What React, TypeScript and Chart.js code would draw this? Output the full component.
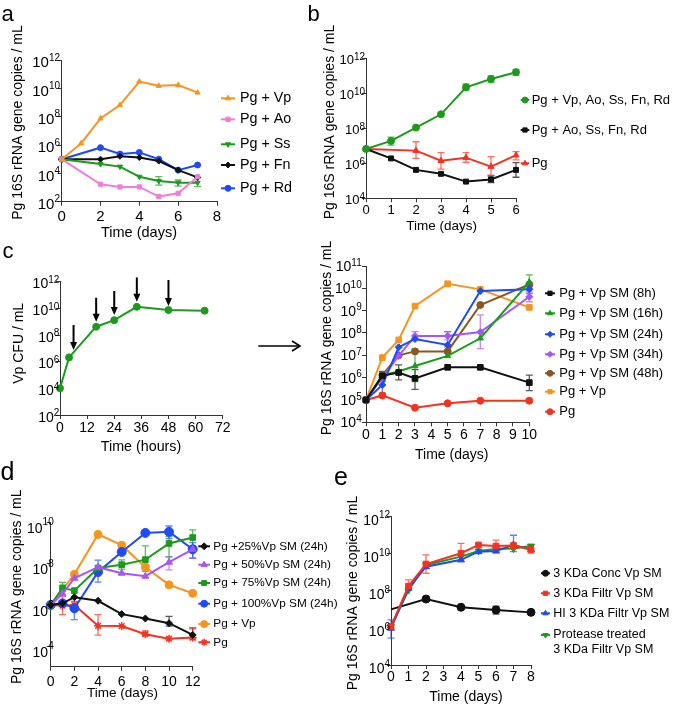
import React, { useEffect, useRef } from 'react';
import { Chart, registerables } from 'chart.js';
import { drawPoint } from 'chart.js/helpers';
Chart.register(...registerables);

const FONT = 'Arial, "Liberation Sans", Helvetica, sans-serif';
const AX = '#333';
const ORANGE = '#F7941D';
const PINK = '#F07ED6';
const GREEN = '#1B9A1B';
const BLACK = '#111111';
const BLUE = '#1F4BF5';
const RED = '#F4321E';
const PURPLE = '#A855F7';
const BROWN = '#8B5523';
const YTITLE = 'Pg 16S rRNA gene copies / mL';

// ---------- Panel a ----------
const aDays = [0, 1, 2, 3, 4, 5, 6, 7];
const aVp = [1e5, 1.3e6, 7.6e7, 6.6e8, 3e10, 1.5e10, 1.7e10, 5e9];
const aAo = [1e5, null, 1.7e3, 1.1e3, 1.1e3, 2.3e2, 3.9e2, 5.8e3];
const aSs = [1e5, null, 4.5e4, 3e4, 5.8e3, 2.9e3, 2.2e3, 2.2e3];
const aFn = [1e5, null, 1e5, 1.6e5, 1.3e5, 7.4e4, 1.7e4, 5.2e3];
const aRd = [1e5, null, 6.5e5, 2.3e5, 3e5, 1e5, 1.7e4, 3.9e4];
const aSsErr = [null, null, null, null, null, [1.5e3, 5.8e3], [1.26e3, 3.4e3], [1.15e3, 4.9e3]];
const aYExp = [2, 4, 6, 8, 10, 12];

// ---------- Panel b ----------
const bDays = [0, 1, 2, 3, 4, 5, 6];
const bAll = [6.6e6, 1.9e7, 1.1e8, 6.3e8, 2.2e10, 6.6e10, 1.6e11];
const bNoVp = [6.6e6, 1.9e6, 4.2e5, 2.5e5, 9e4, 1.2e5, 4.2e5];
const bPg = [6.6e6, null, 5.3e6, 1.4e6, 2.1e6, 6.5e5, 2.9e6];
const bAllErr = [null, [1.1e7, 3.1e7], null, null, [1.5e10, 3.4e10], [4.1e10, 1e11], [1.07e11, 2.3e11]];
const bNoVpErr = [null, null, null, null, null, [7.9e4, 1.9e5], [1.6e5, 1.1e6]];
const bPgErr = [null, null, [1.9e6, 1.7e7], [4.6e5, 4.1e6], [1.15e6, 4.1e6], [2.1e5, 2.4e6], [1.55e6, 4.7e6]];
const bYExp = [4, 6, 8, 10, 12];

// ---------- Panel c (left) ----------
const cHours = [0, 4, 16, 24, 34, 48, 64];
const cVp = [1e4, 2.1e6, 4.2e8, 1.3e9, 1.3e10, 7.5e9, 6.7e9];
const cArrowHours = [6, 16, 24, 34, 48];
const cArrowFrom = [5.6e8, 6.3e10, 2e11, 2.1e12, 1.35e12];
const cArrowTo = [7.6e6, 1e9, 3.2e9, 3.2e10, 1.5e10];
const cYExp = [2, 4, 6, 8, 10, 12];

// ---------- Panel c (right) ----------
const crDays = [0, 1, 2, 3, 5, 7, 10];
const cr8 = [1e5, 1.2e6, 1.7e6, 9.3e5, 2.9e6, 2.9e6, 6e5];
const cr16 = [1e5, 1.3e6, 1.9e6, 3.3e6, 9.4e6, 5.8e7, 1.9e10];
const cr24 = [1e5, 4.7e5, 2.3e7, 5.4e7, 2.9e7, 7.6e9, 9.1e9];
const cr34 = [1e5, 1e6, 9.4e6, 7.4e7, 7.4e7, 1.1e8, 4.2e9];
const cr48 = [1e5, 1.3e6, 1e7, 1.5e7, 1.5e7, 1.8e9, 1.5e10];
const crVp = [1e5, 7.9e6, 4.9e7, 1.6e9, 1.6e10, 9e9, 1.4e9];
const crPg = [1e5, 1.6e5, null, 4.5e4, 7.1e4, 9.3e4, 9.3e4];
const cr8Err = [null, [8e5, 1.9e6], [8e5, 3.7e6], [3e5, 2.3e6], null, null, [2.6e5, 1.3e6]];
const cr16Err = [null, null, null, [6.6e5, 1.9e7], null, null, [1e10, 4e10]];
const cr24Err = [null, [2e5, 6.6e5], null, null, [2.4e7, 1.15e8], null, [6e9, 1.2e10]];
const cr34Err = [null, null, null, [4.9e7, 1.15e8], [4.9e7, 1.15e8], [2e7, 6.5e8], [2.5e9, 7e9]];
const crYExp = [4, 5, 6, 7, 8, 9, 10, 11];

// ---------- Panel d ----------
const dDays = [0, 1, 2, 4, 6, 8, 10, 12];
const d25 = [1e6, 1.2e6, 2.4e6, 1.6e6, 3.6e5, 2.2e5, 1.3e5, 3.5e4];
const d50 = [1e6, 3.5e6, 2e7, 6.9e7, 3.5e7, 2.5e7, 1.2e8, 5.1e8];
const d75 = [1e6, 6.8e6, 5e6, 6.3e7, 9.1e7, 1.6e8, 9.8e8, 1.9e9];
const d100 = [1e6, 1.2e6, 6.9e5, 4e7, 3.8e8, 3.2e9, 3.6e9, 5.1e8];
const dVp = [1e6, null, 3.1e7, 2.7e9, 8.1e8, 6.9e7, 9.5e6, 3.7e6];
const dPg = [1e6, 9.3e5, 1e6, 9.7e4, 9.4e4, 3.8e4, 2.3e4, 2.6e4];
const d25Err = [null, null, null, null, null, null, [9.3e4, 2.8e5], [2.5e4, 7.7e4]];
const d50Err = [null, null, null, null, null, null, [5.1e7, 2.2e8], [1.9e8, 6.9e8]];
const d75Err = [null, [4.6e6, 1.26e7], null, null, [5.5e7, 1.55e8], [4.3e7, 7.4e8], [2.2e8, 2.1e9], [7.4e8, 4.5e9]];
const d100Err = [null, null, [1.95e5, 1.5e6], [1.3e7, 1.5e8], null, null, [1.7e9, 6.9e9], [1.9e8, 1.07e9]];
const dPgErr = [null, [3.4e5, 2.6e6], null, [3.4e4, 3.4e5], null, [3.2e4, 5.5e4], null, [2.1e4, 6.9e4]];
const dYExp = [4, 6, 8, 10];

// ---------- Panel e ----------
const eDays = [0, 1, 2, 4, 5, 6, 7, 8];
const eConc = [1e7, null, 3.6e7, 1.3e7, null, 9.4e6, null, 6.9e6];
const eFiltr = [1.2e6, 1.8e8, 2.8e9, 1.07e10, 3e10, 2.6e10, 2.8e10, 1.7e10];
const eHI = [9.6e5, 1.4e8, 2e9, 4.7e9, 1.3e10, 1.4e10, 3e10, 1.7e10];
const eProt = [1.2e6, 1.1e8, 2.5e9, 7e9, 1.4e10, 1.8e10, 1.9e10, 2.6e10];
const eConcErr = [null, null, null, null, null, [5.6e6, 1.5e7], null, null];
const eFiltrErr = [null, [1.1e8, 3.9e8], [8.9e8, 8.7e9], [3.8e9, 3.6e10], null, [1.3e10, 5.5e10], null, [1.1e10, 2.9e10]];
const eHIErr = [[2.8e5, 2.7e6], null, null, null, null, null, [1.3e10, 1e11], null];
const eYExp = [4, 6, 8, 10, 12];

type Series = {
  label: string; color: string; y: (number | null)[]; err?: any[];
  style: string; rot?: number; r?: number; order?: number; noFirst?: boolean;
};
type Panel = {
  id: string; box: number[]; area: number[];
  xMin: number; xMax: number; xStep: number; xs: number[];
  yMin: number; yMax: number; yExp: number[];
  tick: number; labDx: number; baseDy: number; expDy: number;
  xTitle: { text: string; x: number; y: number; size: number };
  yTitle: { text: string; x: number; y: number; size: number };
  legend?: { x0: number; x1: number; tx: number; ys: number[]; size: number; r: number; lh: number };
  series: Series[]; pr: number; tickPad: number;
  arrows?: { x: number[]; from: number[]; to: number[] };
};

const panels: Panel[] = [
  {
    id: 'a', box: [0, 0, 318, 245], area: [61.7, 60, 217, 201.7],
    xMin: 0, xMax: 8, xStep: 2, xs: aDays, yMin: 1e2, yMax: 1e12, yExp: aYExp,
    tick: 15, labDx: -1.7, baseDy: 3.3, expDy: -2, tickPad: 2,
    xTitle: { text: 'Time (days)', x: 139, y: 233, size: 14.5 },
    yTitle: { text: YTITLE, x: 18, y: 122.5, size: 14 },
    legend: { x0: 221, x1: 235, tx: 240, ys: [98.3, 119.3, 144.3, 165, 188.3], size: 14.3, r: 3, lh: 0 },
    pr: 3,
    series: [
      { label: 'Pg + Vp', color: ORANGE, y: aVp, style: 'triangle' },
      { label: 'Pg + Ao', color: PINK, y: aAo, style: 'rect' },
      { label: 'Pg + Ss', color: GREEN, y: aSs, err: aSsErr, style: 'triangle', rot: 180 },
      { label: 'Pg + Fn', color: BLACK, y: aFn, style: 'rectRot' },
      { label: 'Pg + Rd', color: BLUE, y: aRd, style: 'circle' },
    ],
  },
  {
    id: 'b', box: [318, 0, 355, 236], area: [366, 58.3, 516, 198.3],
    xMin: 0, xMax: 6, xStep: 1, xs: bDays, yMin: 1e4, yMax: 1e12, yExp: bYExp,
    tick: 13, labDx: -1, baseDy: 1.7, expDy: -1.5, tickPad: 0,
    xTitle: { text: 'Time (days)', x: 441.7, y: 226, size: 13.5 },
    yTitle: { text: YTITLE, x: 330, y: 122, size: 14 },
    legend: { x0: 520.7, x1: 529.3, tx: 531.7, ys: [100, 130, 163.3], size: 13, r: 3, lh: 0 },
    pr: 3.5,
    series: [
      { label: 'Pg + Vp, Ao, Ss, Fn, Rd', color: GREEN, y: bAll, err: bAllErr, style: 'circle' },
      { label: 'Pg + Ao, Ss, Fn, Rd', color: BLACK, y: bNoVp, err: bNoVpErr, style: 'rect' },
      { label: 'Pg', color: RED, y: bPg, err: bPgErr, style: 'triangle' },
    ],
  },
  {
    id: 'cl', box: [0, 245, 255, 225], area: [60, 281.7, 222.7, 415],
    xMin: 0, xMax: 72, xStep: 12, xs: cHours, yMin: 1e2, yMax: 1e12, yExp: cYExp,
    tick: 14, labDx: -0.7, baseDy: 2.7, expDy: -1.5, tickPad: 1,
    xTitle: { text: 'Time (hours)', x: 141, y: 446.7, size: 14.3 },
    yTitle: { text: 'Vp CFU / mL', x: 19.3, y: 343.3, size: 14 },
    pr: 3.5,
    series: [{ label: 'Vp', color: GREEN, y: cVp, style: 'circle' }],
    arrows: { x: cArrowHours, from: cArrowFrom, to: cArrowTo },
  },
  {
    id: 'cr', box: [310, 236, 363, 234], area: [366, 266, 529.3, 422.3],
    xMin: 0, xMax: 10, xStep: 1, xs: crDays, yMin: 1e4, yMax: 1e11, yExp: crYExp,
    tick: 14, labDx: -4.3, baseDy: 1, expDy: -3, tickPad: 0,
    xTitle: { text: 'Time (days)', x: 451.7, y: 455, size: 14 },
    yTitle: { text: YTITLE, x: 326.7, y: 338, size: 14 },
    legend: { x0: 545, x1: 555, tx: 559.3, ys: [293.3, 313.3, 334.3, 354.3, 373.3, 391.7, 411.7], size: 13, r: 3, lh: 0 },
    pr: 3.5,
    series: [
      { label: 'Pg + Vp SM (8h)', color: BLACK, y: cr8, err: cr8Err, style: 'rect', r: 4 },
      { label: 'Pg + Vp SM (16h)', color: GREEN, y: cr16, err: cr16Err, style: 'triangle' },
      { label: 'Pg + Vp SM (24h)', color: BLUE, y: cr24, err: cr24Err, style: 'rectRot' },
      { label: 'Pg + Vp SM (34h)', color: PURPLE, y: cr34, err: cr34Err, style: 'rectRot' },
      { label: 'Pg + Vp SM (48h)', color: BROWN, y: cr48, style: 'circle' },
      { label: 'Pg + Vp', color: ORANGE, y: crVp, style: 'rect', r: 4 },
      { label: 'Pg', color: RED, y: crPg, style: 'circle' },
    ],
  },
  {
    id: 'd', box: [0, 470, 340, 234], area: [50.7, 522.7, 192.7, 666.7],
    xMin: 0, xMax: 12, xStep: 2, xs: dDays, yMin: 1e3, yMax: 1e10, yExp: dYExp,
    tick: 14, labDx: 3, baseDy: 6.7, expDy: 0, tickPad: 3,
    xTitle: { text: 'Time (days)', x: 122.5, y: 693, size: 13.5 },
    yTitle: { text: YTITLE, x: 16.7, y: 586.7, size: 14 },
    legend: { x0: 198.3, x1: 210, tx: 213.3, ys: [546.3, 564.7, 583, 603.7, 624, 642.3], size: 11.8, r: 3.5, lh: 0 },
    pr: 4,
    series: [
      { label: 'Pg +25%Vp SM (24h)', color: BLACK, y: d25, err: d25Err, style: 'rectRot', r: 3.5 },
      { label: 'Pg + 50%Vp SM (24h)', color: PURPLE, y: d50, err: d50Err, style: 'triangle' },
      { label: 'Pg + 75%Vp SM (24h)', color: GREEN, y: d75, err: d75Err, style: 'rect' },
      { label: 'Pg + 100%Vp SM (24h)', color: BLUE, y: d100, err: d100Err, style: 'circle', r: 4.5 },
      { label: 'Pg + Vp', color: ORANGE, y: dVp, style: 'circle' },
      { label: 'Pg', color: RED, y: dPg, err: dPgErr, style: 'star' },
    ],
  },
  {
    id: 'e', box: [340, 470, 333, 234], area: [391, 516.7, 531, 665],
    xMin: 0, xMax: 8, xStep: 1, xs: eDays, yMin: 1e4, yMax: 1e12, yExp: eYExp,
    tick: 14, labDx: -1, baseDy: 4.3, expDy: -1, tickPad: 0,
    xTitle: { text: 'Time (days)', x: 466, y: 696.7, size: 14 },
    yTitle: { text: YTITLE, x: 353.3, y: 593, size: 14 },
    legend: { x0: 541, x1: 550, tx: 553.3, ys: [573.3, 593.3, 613.3, 635], size: 12.5, r: 3, lh: 14.3 },
    pr: 4,
    series: [
      { label: '3 KDa Conc Vp SM', color: BLACK, y: eConc, err: eConcErr, style: 'circle', order: 3, noFirst: true },
      { label: '3 KDa Filtr Vp SM', color: RED, y: eFiltr, err: eFiltrErr, style: 'rect', order: 0 },
      { label: 'HI 3 KDa Filtr Vp SM', color: BLUE, y: eHI, err: eHIErr, style: 'triangle', order: 1 },
      { label: 'Protease treated\n3 KDa Filtr Vp SM', color: GREEN, y: eProt, style: 'triangle', rot: 180, order: 2 },
    ],
  },
];

function makeOverlay(p: Panel) {
  const bx = p.box[0], by = p.box[1];
  return {
    id: 'overlay_' + p.id,
    beforeDatasetsDraw(chart: any) {
      const ctx = chart.ctx; const xs = chart.scales.x; const ys = chart.scales.y;
      p.series.forEach((s) => {
        if (!s.err) return;
        ctx.save();
        ctx.strokeStyle = s.color; ctx.globalAlpha = 0.7; ctx.lineWidth = 1.3;
        s.err.forEach((e: any, i: number) => {
          if (!e) return;
          const px = xs.getPixelForValue(p.xs[i]);
          const y1 = ys.getPixelForValue(e[0]); const y2 = ys.getPixelForValue(e[1]);
          ctx.beginPath();
          ctx.moveTo(px, y1); ctx.lineTo(px, y2);
          ctx.moveTo(px - 3.5, y1); ctx.lineTo(px + 3.5, y1);
          ctx.moveTo(px - 3.5, y2); ctx.lineTo(px + 3.5, y2);
          ctx.stroke();
        });
        ctx.restore();
      });
    },
    afterDraw(chart: any) {
      const ctx = chart.ctx; const xs = chart.scales.x; const ys = chart.scales.y; const ca = chart.chartArea;
      ctx.save();
      ctx.fillStyle = '#000';
      // y tick labels with superscript exponents
      ctx.textAlign = 'right'; ctx.textBaseline = 'middle';
      p.yExp.forEach((e) => {
        const y = ys.getPixelForValue(Math.pow(10, e));
        const xr = ca.left + p.labDx;
        ctx.font = `10px ${FONT}`;
        const es = String(e); const ew = ctx.measureText(es).width;
        ctx.fillText(es, xr, y + p.expDy);
        ctx.font = `${p.tick}px ${FONT}`;
        ctx.fillText('10', xr - ew, y + p.baseDy);
      });
      // titles
      ctx.textAlign = 'center'; ctx.textBaseline = 'middle';
      ctx.font = `${p.xTitle.size}px ${FONT}`;
      ctx.fillText(p.xTitle.text, p.xTitle.x - bx, p.xTitle.y - by);
      ctx.save();
      ctx.translate(p.yTitle.x - bx, p.yTitle.y - by);
      ctx.rotate(-Math.PI / 2);
      ctx.font = `${p.yTitle.size}px ${FONT}`;
      ctx.fillText(p.yTitle.text, 0, 0);
      ctx.restore();
      // legend
      if (p.legend) {
        const lg = p.legend;
        p.series.forEach((s, i) => {
          const y = lg.ys[i] - by; const x0 = lg.x0 - bx; const x1 = lg.x1 - bx;
          ctx.strokeStyle = s.color; ctx.lineWidth = 2;
          ctx.beginPath(); ctx.moveTo(x0, y); ctx.lineTo(x1, y); ctx.stroke();
          ctx.fillStyle = s.color; ctx.lineWidth = s.style === 'star' ? 1.5 : 1;
          drawPoint(ctx, { pointStyle: s.style, rotation: s.rot || 0, radius: lg.r, borderWidth: s.style === 'star' ? 1.5 : 1 } as any, (x0 + x1) / 2, y);
          ctx.fillStyle = '#000'; ctx.font = `${lg.size}px ${FONT}`;
          ctx.textAlign = 'left'; ctx.textBaseline = 'middle';
          s.label.split('\n').forEach((t, j) => ctx.fillText(t, lg.tx - bx, y + j * lg.lh));
        });
      }
      // arrows (panel c)
      if (p.arrows) {
        const a = p.arrows;
        ctx.strokeStyle = '#000'; ctx.fillStyle = '#000'; ctx.lineWidth = 2;
        a.x.forEach((h, i) => {
          const x = xs.getPixelForValue(h);
          const y0 = ys.getPixelForValue(a.from[i]); const y1 = ys.getPixelForValue(a.to[i]);
          ctx.beginPath(); ctx.moveTo(x, y0); ctx.lineTo(x, y1 - 6); ctx.stroke();
          ctx.beginPath(); ctx.moveTo(x - 3.5, y1 - 8); ctx.lineTo(x + 3.5, y1 - 8); ctx.lineTo(x, y1); ctx.closePath(); ctx.fill();
        });
      }
      ctx.restore();
    },
  };
}

function buildConfig(p: Panel): any {
  const [bx, by, bw, bh] = p.box;
  const [L, T, R, B] = p.area;
  return {
    type: 'line',
    data: {
      datasets: p.series.map((s, k) => {
        const r = s.r ?? p.pr;
        return {
          label: s.label,
          data: p.xs.map((x, i) => (s.y[i] == null ? null : { x, y: s.y[i] })).filter(Boolean),
          borderColor: s.color,
          backgroundColor: s.color,
          borderWidth: 2,
          pointStyle: s.style,
          pointRotation: s.rot || 0,
          pointRadius: s.noFirst ? (c: any) => (c.dataIndex === 0 ? 0 : r) : r,
          pointHoverRadius: r,
          pointBorderWidth: s.style === 'star' ? 1.5 : 1,
          tension: 0,
          fill: false,
          clip: false,
          order: s.order ?? k,
        };
      }),
    },
    options: {
      animation: false,
      responsive: false,
      devicePixelRatio: 1,
      events: [],
      layout: { padding: { left: 0, top: T - by, right: bx + bw - R, bottom: 0 } },
      plugins: { legend: { display: false }, tooltip: { enabled: false } },
      scales: {
        x: {
          type: 'linear', min: p.xMin, max: p.xMax,
          ticks: { stepSize: p.xStep, autoSkip: false, maxRotation: 0, color: '#000', padding: p.tickPad, font: { size: p.tick, family: FONT } },
          grid: { drawOnChartArea: false, drawTicks: true, tickLength: 4, color: AX, lineWidth: 1 },
          border: { display: true, color: AX, width: 1 },
          afterFit: (s: any) => { s.height = by + bh - B; },
        },
        y: {
          type: 'logarithmic', min: p.yMin, max: p.yMax,
          ticks: { display: false },
          afterBuildTicks: (ax: any) => { ax.ticks = p.yExp.map((e) => ({ value: Math.pow(10, e) })); },
          grid: { drawOnChartArea: false, drawTicks: true, tickLength: 4, color: AX, lineWidth: 1 },
          border: { display: true, color: AX, width: 1 },
          afterFit: (s: any) => { s.width = L - bx; },
        },
      },
    },
    plugins: [makeOverlay(p)],
  };
}

function PanelChart({ p }: { p: Panel }) {
  const ref = useRef<HTMLCanvasElement>(null);
  useEffect(() => {
    const chart = new Chart(ref.current as HTMLCanvasElement, buildConfig(p));
    return () => chart.destroy();
  }, []);
  return (
    <canvas
      ref={ref}
      width={p.box[2]}
      height={p.box[3]}
      style={{ position: 'absolute', left: p.box[0], top: p.box[1], width: p.box[2], height: p.box[3] }}
    />
  );
}

export default function App() {
  const letter = { fontFamily: FONT, fill: '#000' } as any;
  return (
    <div style={{ position: 'absolute', left: 0, top: 0, width: 673, height: 704, background: '#fff', overflow: 'hidden' }}>
      {panels.map((p) => (
        <PanelChart key={p.id} p={p} />
      ))}
      <svg width={673} height={704} style={{ position: 'absolute', left: 0, top: 0, pointerEvents: 'none' }}>
        <text x={1.5} y={20.7} fontSize={22} {...letter}>a</text>
        <text x={307.5} y={20.7} fontSize={22} {...letter}>b</text>
        <text x={2.5} y={258.3} fontSize={22} {...letter}>c</text>
        <text x={0.5} y={480} fontSize={25} {...letter}>d</text>
        <text x={334} y={485} fontSize={25} {...letter}>e</text>
        <line x1={258.3} y1={346} x2={299.5} y2={346} stroke="#000" strokeWidth={1.6} />
        <polyline points="292,341 300,346 292,351" fill="none" stroke="#000" strokeWidth={1.6} />
      </svg>
    </div>
  );
}
